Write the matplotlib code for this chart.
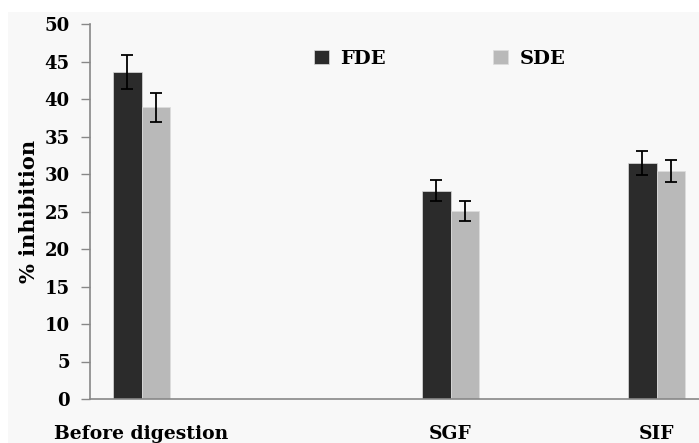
import numpy as np
import matplotlib.pyplot as plt
from matplotlib.patches import Rectangle

# category slots (empty slots keep the original spacing)
categories = ['Before digestion', '', '', 'SGF', '', 'SIF']
fde = [43.6, np.nan, np.nan, 27.8, np.nan, 31.5]
sde = [38.9, np.nan, np.nan, 25.1, np.nan, 30.4]
fde_err = [2.3, np.nan, np.nan, 1.45, np.nan, 1.6]
sde_err = [1.9, np.nan, np.nan, 1.3, np.nan, 1.5]

font = ['DejaVu Serif']

fig = plt.figure(figsize=(6.99, 4.43), dpi=100)
fig.patch.set_facecolor('white')
fig.patches.append(Rectangle((8 / 699, 0), 1, 1 - 12 / 443, transform=fig.transFigure,
                             facecolor='#f8f8f8', edgecolor='none', zorder=-10))

ax = fig.add_axes([90 / 699, 44 / 443, 618 / 699, 375 / 443])
ax.set_facecolor('#f8f8f8')

x = np.arange(len(categories))
w = 0.28
ekw = dict(ecolor='black', elinewidth=1.3, capsize=4, capthick=1.3)
ax.bar(x - w / 2, fde, w, color='#2b2b2b', edgecolor='#dddddd', linewidth=0.5,
       yerr=fde_err, error_kw=ekw, label='FDE')
ax.bar(x + w / 2, sde, w, color='#b9b9b9', edgecolor='#dddddd', linewidth=0.5,
       yerr=sde_err, error_kw=ekw, label='SDE')

ax.set_xlim(-0.5, len(categories) - 0.5)
ax.set_ylim(0, 50)
ax.set_yticks(np.arange(0, 51, 5))
ax.set_xticks(x)
ax.set_xticklabels(categories, fontfamily=font, fontweight='bold', fontsize=13.5)
ax.tick_params(axis='x', length=0, pad=19)
ax.tick_params(axis='y', length=6.5, width=1, color='#888888', pad=8)
for lab in ax.get_yticklabels():
    lab.set_fontfamily(font)
    lab.set_fontweight('bold')
    lab.set_fontsize(13)

for s in ['top', 'right']:
    ax.spines[s].set_visible(False)
for s in ['left', 'bottom']:
    ax.spines[s].set_color('#888888')
    ax.spines[s].set_linewidth(1.2)

ax.set_ylabel('% inhibition', fontfamily=font, fontweight='bold', fontsize=15, labelpad=4)

ax.legend(loc='center', bbox_to_anchor=(0.566, 0.907), ncol=2, frameon=False,
          handlelength=0.75, handleheight=0.75, columnspacing=5.5, handletextpad=0.6,
          prop=dict(family=font, weight='bold', size=14))

fig.savefig('out.png', dpi=100, facecolor=fig.get_facecolor())
